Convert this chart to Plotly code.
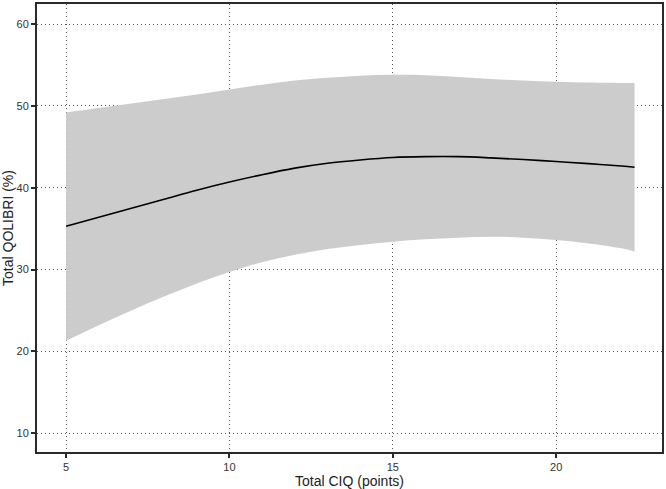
import plotly.graph_objects as go

x_ciq = [5, 6, 7, 8, 9, 10, 11, 12, 13, 14, 15, 16, 17, 18, 19, 20, 21, 22, 22.4]
fit = [35.3, 36.4, 37.5, 38.6, 39.7, 40.7, 41.6, 42.4, 43.0, 43.4, 43.7, 43.8, 43.8, 43.65, 43.45, 43.2, 42.95, 42.65, 42.5]
upper = [49.2, 49.75, 50.3, 50.85, 51.4, 52.0, 52.6, 53.1, 53.45, 53.7, 53.8, 53.75, 53.55, 53.3, 53.1, 52.95, 52.85, 52.8, 52.8]
lower = [21.3, 23.2, 25.0, 26.7, 28.3, 29.7, 30.9, 31.8, 32.5, 33.0, 33.4, 33.7, 33.9, 34.0, 33.9, 33.6, 33.2, 32.6, 32.2]

x_ticks = [5, 10, 15, 20]
y_ticks = [10, 20, 30, 40, 50, 60]

fig = go.Figure()
fig.add_trace(go.Scatter(x=x_ciq, y=upper, mode="lines", line=dict(width=0, shape="spline"),
                         showlegend=False, hoverinfo="skip"))
fig.add_trace(go.Scatter(x=x_ciq, y=lower, mode="lines", line=dict(width=0, shape="spline"),
                         fill="tonexty", fillcolor="#cccccc", showlegend=False, hoverinfo="skip"))
fig.add_trace(go.Scatter(x=x_ciq, y=fit, mode="lines", line=dict(color="black", width=1.6, shape="spline"),
                         showlegend=False))

axis_common = dict(showline=True, linecolor="#2a2a2a", linewidth=2, mirror=True,
                   ticks="outside", ticklen=4, tickcolor="#2a2a2a", tickwidth=1.5,
                   showgrid=True, gridcolor="#555555", griddash="1px,3px", gridwidth=1,
                   zeroline=False, tickfont=dict(size=11, color="#333333"))

fig.update_xaxes(range=[4.11, 23.24], tickvals=x_ticks,
                 title=dict(text="Total CIQ (points)", font=dict(size=14, color="#222222"), standoff=4),
                 **axis_common)
fig.update_yaxes(range=[7.7, 62.46], tickvals=y_ticks,
                 title=dict(text="Total QOLIBRI (%)", font=dict(size=14, color="#222222"), standoff=4),
                 **axis_common)

fig.update_layout(width=666, height=489, margin=dict(l=37, r=3, t=2, b=35),
                  plot_bgcolor="white", paper_bgcolor="white",
                  font=dict(family="Liberation Sans, Arial, sans-serif"))

fig.write_html("out.html")
